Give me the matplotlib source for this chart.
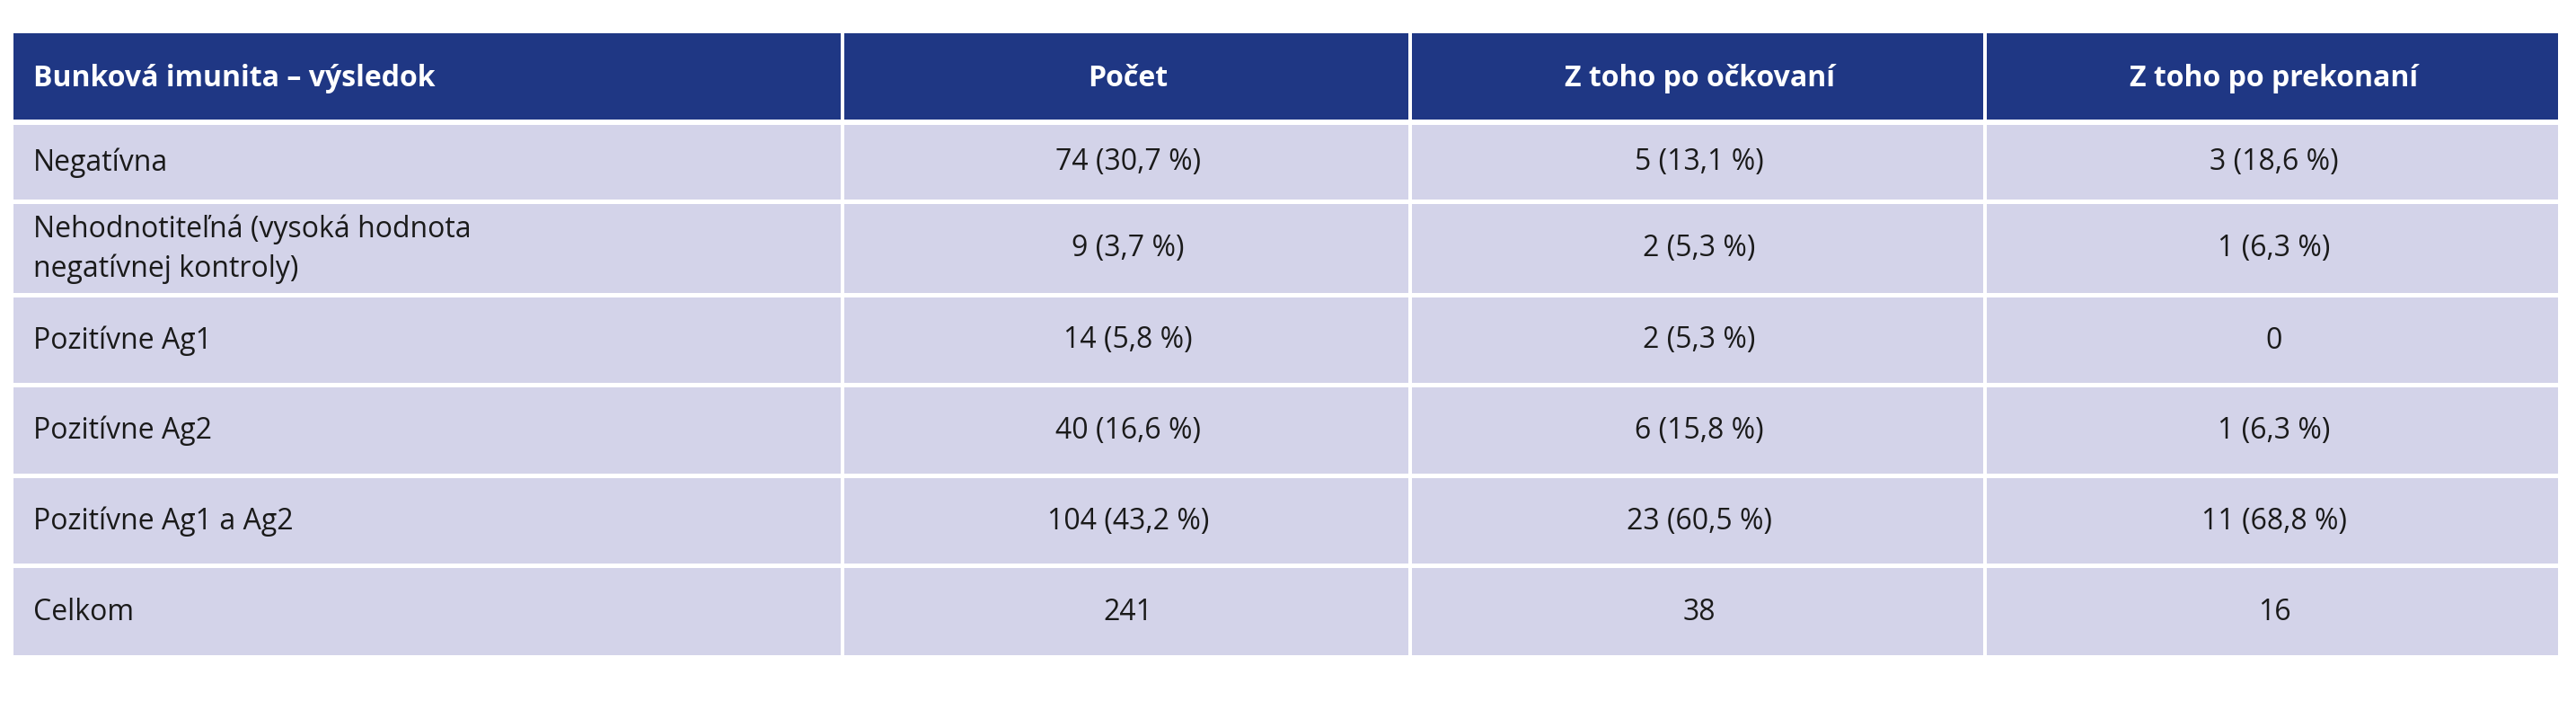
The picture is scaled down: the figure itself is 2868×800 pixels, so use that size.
import matplotlib
matplotlib.use("Agg")
import matplotlib.pyplot as plt
from matplotlib.patches import Rectangle

headers = ["Bunková imunita – výsledok", "Počet", "Z toho po očkovaní", "Z toho po prekonaní"]
row_labels = ["Negatívna", "Nehodnotiteľná (vysoká hodnota\nnegatívnej kontroly)", "Pozitívne Ag1",
              "Pozitívne Ag2", "Pozitívne Ag1 a Ag2", "Celkom"]
pocet = ["74 (30,7 %)", "9 (3,7 %)", "14 (5,8 %)", "40 (16,6 %)", "104 (43,2 %)", "241"]
ockovani = ["5 (13,1 %)", "2 (5,3 %)", "2 (5,3 %)", "6 (15,8 %)", "23 (60,5 %)", "38"]
prekonani = ["3 (18,6 %)", "1 (6,3 %)", "0", "1 (6,3 %)", "11 (68,8 %)", "16"]

plt.rcParams['font.family'] = ['Open Sans', 'DejaVu Sans']
fig = plt.figure(figsize=(28.68, 8), dpi=100)
ax = fig.add_axes([0, 0, 1, 1])
ax.set_xlim(0, 2868)
ax.set_ylim(800, 0)
ax.axis('off')

cols = [15, 940, 1572, 2212, 2852]
rows = [37, 137, 225, 329, 429, 530, 630, 732]
HEAD = "#1f3784"
BODY = "#d3d3e9"
gap = 4

for c in range(4):
    x0, x1 = cols[c], cols[c + 1]
    ax.add_patch(Rectangle((x0, rows[0]), x1 - x0 - gap, rows[1] - rows[0] - gap, color=HEAD, lw=0))
    for r in range(1, 7):
        ax.add_patch(Rectangle((x0, rows[r] + 2), x1 - x0 - gap, rows[r + 1] - rows[r] - 5, color=BODY, lw=0))

fs = 23
ymid = (rows[0] + rows[1]) / 2
for c, h in enumerate(headers):
    if c == 0:
        ax.text(cols[0] + 22, ymid, h, ha='left', va='center', color='white', fontsize=fs, fontweight='bold')
    else:
        ax.text((cols[c] + cols[c + 1]) / 2, ymid, h, ha='center', va='center', color='white', fontsize=fs, fontweight='bold')

for r in range(6):
    y = (rows[r + 1] + rows[r + 2]) / 2
    ax.text(cols[0] + 22, y, row_labels[r], ha='left', va='center', color='#1a1a1a', fontsize=fs, linespacing=1.4)
    for c, vals in zip([1, 2, 3], [pocet, ockovani, prekonani]):
        ax.text((cols[c] + cols[c + 1]) / 2, y, vals[r], ha='center', va='center', color='#1a1a1a', fontsize=fs)

fig.savefig("out.png", dpi=100, facecolor='white')
